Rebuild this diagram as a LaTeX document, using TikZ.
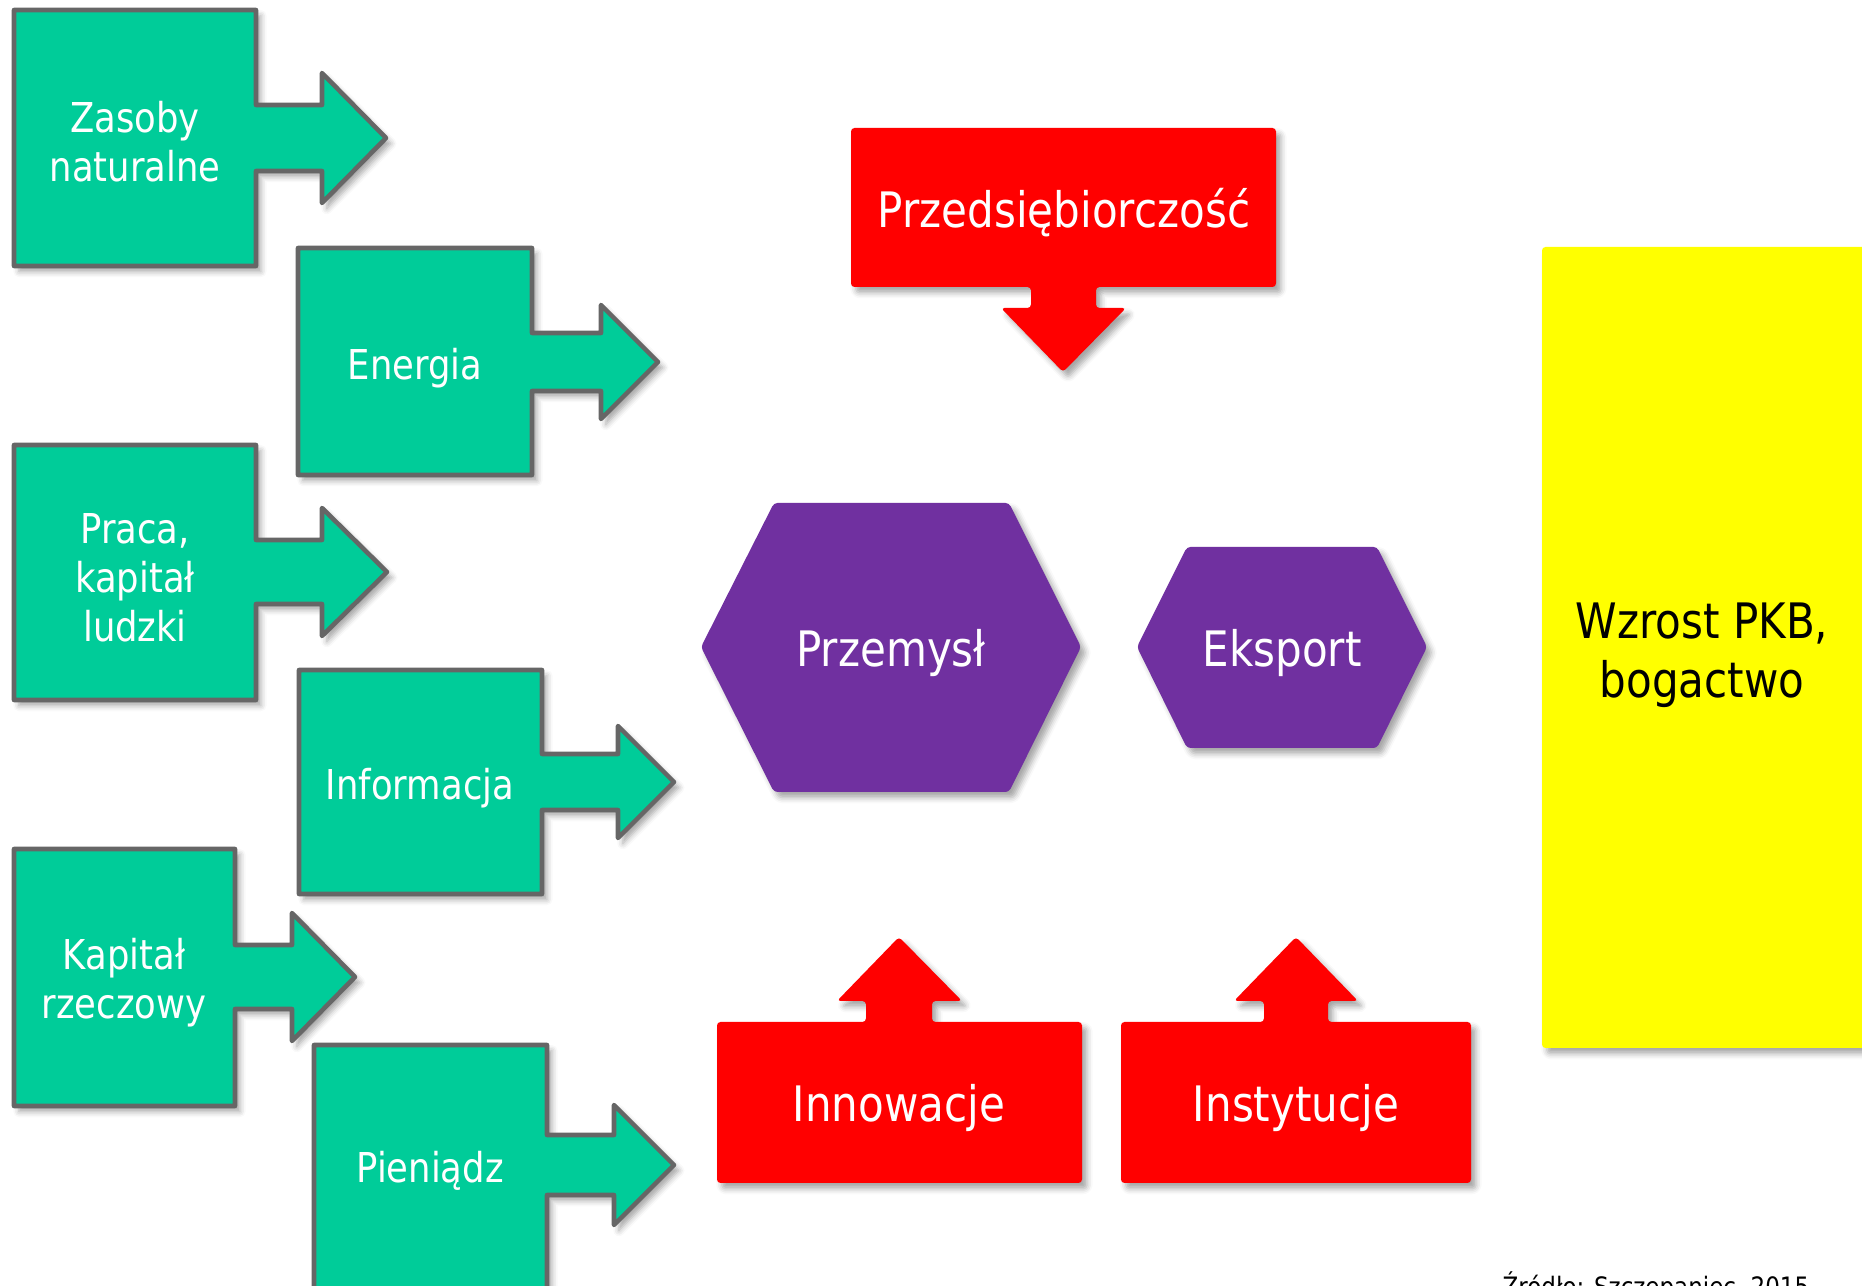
\documentclass[tikz,border=0pt]{standalone}
\usepackage{fontspec}
\setmainfont[FakeStretch=0.86]{DejaVu Sans}
\usetikzlibrary{shadows.blur}
\definecolor{zielony}{HTML}{00CC99}
\definecolor{ramka}{HTML}{666666}
\definecolor{czerwony}{HTML}{FF0000}
\definecolor{fiolet}{HTML}{7030A0}
\definecolor{zolty}{HTML}{FFFF00}
\begin{document}
\begin{tikzpicture}[x=0.01cm, y=-0.01cm]

      \tikzset{cien/.style={blur shadow={shadow xshift=1.4pt, shadow yshift=-1.6pt, shadow blur radius=1.6pt, shadow opacity=35}},
               czynnik/.style={fill=zielony, draw=ramka, line width=1.3pt, line join=round, cien},
               bodziec/.style={fill=czerwony, rounded corners=1pt, cien},
               sektor/.style={fill=fiolet, rounded corners=1pt, cien},
               opis/.style={text=white, align=center, inner sep=0pt, font=\fontsize{11.7}{13.9}\selectfont},
               duzy/.style={text=white, align=center, inner sep=0pt, font=\fontsize{13.9}{16.7}\selectfont}}
      \useasboundingbox (0,0) rectangle (1862,1286);
      \clip (0,0) rectangle (1862,1286);
% Inputs
      	\draw[czynnik] (14,10) -- (256,10) -- (256,105) -- (322,105) -- (322,73) -- (386,138) -- (322,203) -- (322,171) -- (256,171) -- (256,266) -- (14,266) -- cycle;
      	\draw[czynnik] (298,248) -- (532,248) -- (532,333) -- (601,333) -- (601,305) -- (658,362) -- (601,419) -- (601,391) -- (532,391) -- (532,475) -- (298,475) -- cycle;
      	\draw[czynnik] (14,445) -- (256,445) -- (256,540) -- (322,540) -- (322,508) -- (387,572) -- (322,636) -- (322,604) -- (256,604) -- (256,700) -- (14,700) -- cycle;
      	\draw[czynnik] (299,670) -- (542,670) -- (542,754) -- (618,754) -- (618,726) -- (674,782) -- (618,838) -- (618,810) -- (542,810) -- (542,894) -- (299,894) -- cycle;
      	\draw[czynnik] (14,849) -- (235,849) -- (235,945) -- (292,945) -- (292,913) -- (355,977) -- (292,1041) -- (292,1009) -- (235,1009) -- (235,1106) -- (14,1106) -- cycle;
      	\draw[czynnik] (314,1045) -- (547,1045) -- (547,1135) -- (614,1135) -- (614,1105) -- (674,1165) -- (614,1225) -- (614,1195) -- (547,1195) -- (547,1290) -- (314,1290) -- cycle;
      	\node[opis] (zasoby) at (135,142) {Zasoby\\naturalne};
      	\node[opis] (energia) at (415,368) {Energia};
      	\node[opis] (praca) at (135,578) {Praca,\\kapitał\\ludzki};
      	\node[opis] (informacja) at (420,788) {Informacja};
      	\node[opis] (kapital) at (124,983) {Kapitał\\rzeczowy};
      	\node[opis] (pieniadz) at (430,1171) {Pieniądz};
% Drivers
      	\fill[bodziec] (851,128) -- (1276,128) -- (1276,287) -- (1096,287) -- (1096,308) -- (1126,308) -- (1063,372) -- (1001,308) -- (1031,308) -- (1031,287) -- (851,287) -- cycle;
      	\fill[bodziec] (717,1022) -- (866,1022) -- (866,1001) -- (837,1001) -- (899,937) -- (962,1001) -- (932,1001) -- (932,1022) -- (1082,1022) -- (1082,1183) -- (717,1183) -- cycle;
      	\fill[bodziec] (1121,1022) -- (1264,1022) -- (1264,1001) -- (1234,1001) -- (1296,937) -- (1358,1001) -- (1328,1001) -- (1328,1022) -- (1471,1022) -- (1471,1183) -- (1121,1183) -- cycle;
      	\node[duzy] (przedsiebiorczosc) at (1064,213) {Przedsiębiorczość};
      	\node[duzy] (innowacje) at (899,1108) {Innowacje};
      	\node[duzy] (instytucje) at (1296,1108) {Instytucje};
% Sectors
      	\fill[sektor] (774,503) -- (1009,503) -- (1081,647) -- (1009,792) -- (774,792) -- (701,647) -- cycle;
      	\fill[sektor] (1187,547) -- (1377,547) -- (1427,647) -- (1377,748) -- (1187,748) -- (1137,647) -- cycle;
      	\node[duzy] (przemysl) at (891,653) {Przemysł};
      	\node[duzy] (eksport) at (1282,653) {Eksport};
% Result
      	\fill[zolty, rounded corners=1pt, cien] (1542,247) rectangle (1866,1048);
      	\node[duzy, text=black, font=\fontsize{13.9}{16.9}\selectfont] (wzrost) at (1702,655) {Wzrost PKB,\\bogactwo};
      	\node[anchor=base west, inner sep=0pt, font=\fontsize{7.6}{9}\selectfont] (zrodlo) at (1502,1297) {Źródło: Szczepaniec, 2015};

\end{tikzpicture}
\end{document}
